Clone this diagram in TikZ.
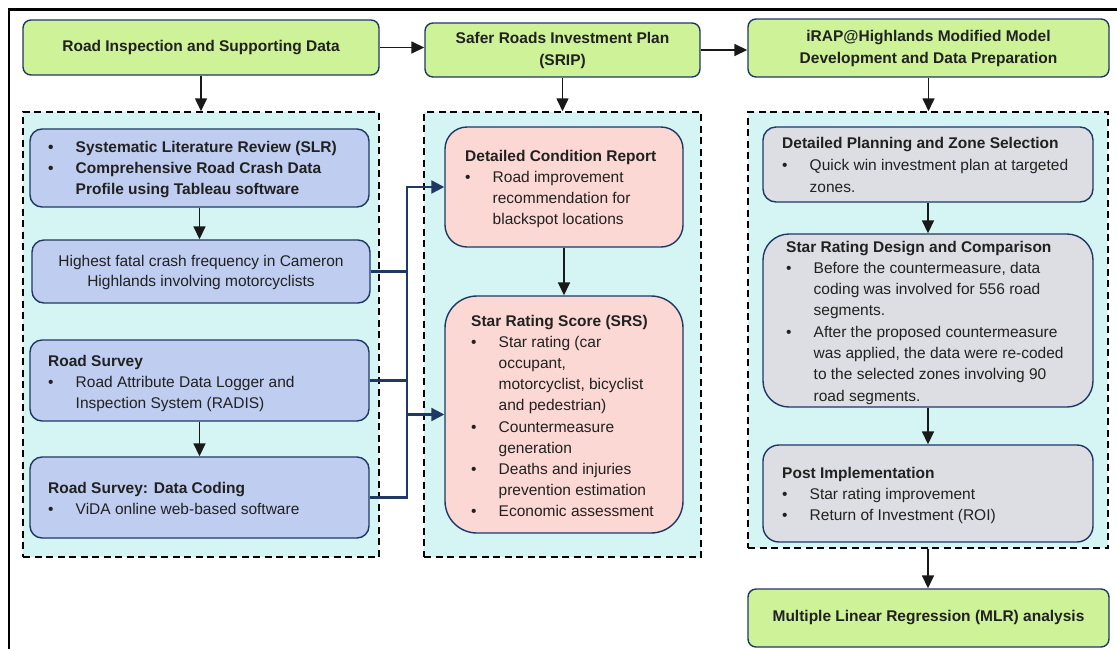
\documentclass[tikz,border=0pt]{standalone}
\usepackage{fontspec}
\setmainfont{Liberation Sans}
\usetikzlibrary{arrows.meta}
\definecolor{hdrgreen}{RGB}{205,242,152}
\definecolor{contfill}{RGB}{213,245,245}
\definecolor{bluefill}{RGB}{191,205,240}
\definecolor{pinkfill}{RGB}{251,216,211}
\definecolor{grayfill}{RGB}{221,222,227}
\definecolor{navy}{RGB}{31,56,100}
\definecolor{textc}{RGB}{33,33,33}
\newcommand\tb[1]{\begin{tabular}[t]{@{}l@{}}#1\end{tabular}}
\newcommand\bitem{\makebox[27.5pt][l]{•}}
\newcommand\bcont{\hspace*{27.5pt}}
\tikzset{
  x=1pt, y=-1pt,
  boxbase/.style={draw=navy, line width=1.4pt, inner sep=0pt},
  hdr/.style={boxbase, fill=hdrgreen, rounded corners=8pt, align=center, text=textc,
     font=\fontsize{15.5}{22}\selectfont\bfseries},
  cont/.style={draw=black, line width=1.5pt, dash pattern=on 7pt off 4.5pt, fill=contfill, inner sep=0pt},
  bbox/.style={boxbase, fill=bluefill, rounded corners=12pt},
  pbox/.style={boxbase, fill=pinkfill},
  gbox/.style={boxbase, fill=grayfill},
  txt/.style={inner sep=0pt, text=textc, anchor=base west, font=\fontsize{15.5}{21}\selectfont},
  arr/.style={draw=black!90, line width=1.6pt, -{Triangle[length=13pt,width=12pt]}},
  conn/.style={draw=navy, line width=2.2pt},
  conna/.style={conn, -{Triangle[length=13pt,width=13pt]}},
}
\begin{document}
\begin{tikzpicture}
\useasboundingbox (0,0) rectangle (1117,649);
% outer frame
\draw[line width=2.2pt] (9,649) -- (9,9.5) -- (1117,9.5);
% containers
\node[cont, minimum width=356pt, minimum height=445pt] (C1) at (201,334.5) {};
\node[cont, minimum width=277pt, minimum height=445pt] (C2) at (562.5,334.5) {};
\node[cont, minimum width=360pt, minimum height=436pt] (C3) at (928,330) {};
% headers
\node[hdr, minimum width=356pt, minimum height=55pt] (H1) at (201,47.5) {Road Inspection and Supporting Data};
\node[hdr, minimum width=275pt, minimum height=54pt] (H2) at (562.5,50) {Safer Roads Investment Plan\\(SRIP)};
\node[hdr, minimum width=361pt, minimum height=58pt] (H3) at (928.5,48) {iRAP@Highlands Modified Model\\Development and Data Preparation};
\node[hdr, minimum width=361pt, minimum height=58pt] (MLR) at (928.5,618) {Multiple Linear Regression (MLR) analysis};
% left column
\node[bbox, minimum width=339pt, minimum height=78pt] (B1) at (199.5,168) {};
\node[bbox, minimum width=338pt, minimum height=63pt] (B2) at (201,271.5) {};
\node[bbox, minimum width=339pt, minimum height=81pt] (B3) at (199.5,380.5) {};
\node[bbox, minimum width=339pt, minimum height=81pt] (B4) at (199.5,497.5) {};
% middle column
\node[pbox, rounded corners=22pt, minimum width=238pt, minimum height=120pt] (P1) at (564,187) {};
\node[pbox, rounded corners=32pt, minimum width=238pt, minimum height=237pt] (P2) at (564,414.5) {};
% right column
\node[gbox, rounded corners=13pt, minimum width=330pt, minimum height=75pt] (G1) at (928,164.5) {};
\node[gbox, rounded corners=26pt, minimum width=330pt, minimum height=173pt] (G2) at (928,320.5) {};
\node[gbox, rounded corners=16pt, minimum width=330pt, minimum height=97pt] (G3) at (928,493.5) {};
% texts
\node[txt, font=\fontsize{15.5}{21}\selectfont\bfseries] (tB1) at (48,152)
  {\tb{\bitem Systematic Literature Review (SLR)\\ \bitem Comprehensive Road Crash Data\\ \bcont Profile using Tableau software}};
\node[txt, anchor=center, align=center, font=\fontsize{15.5}{20}\selectfont] (tB2) at ([yshift=-1pt]B2.center)
  {Highest fatal crash frequency in Cameron\\Highlands involving motorcyclists};
\node[txt] (tB3) at (48,366)
  {\tb{\textbf{Road Survey}\\ \bitem Road Attribute Data Logger and\\ \bcont Inspection System (RADIS)}};
\node[txt] (tB4) at (48,493)
  {\tb{\textbf{Road Survey: Data Coding}\\ \bitem ViDA online web-based software}};
\node[txt] (tP1) at (465,161)
  {\tb{\textbf{Detailed Condition Report}\\ \bitem Road improvement\\ \bcont recommendation for\\ \bcont blackspot locations}};
\node[txt, font=\fontsize{15.5}{21.2}\selectfont] (tP2) at (471,326)
  {\tb{\textbf{Star Rating Score (SRS)}\\ \bitem Star rating (car\\ \bcont occupant,\\ \bcont motorcyclist, bicyclist\\ \bcont and pedestrian)\\ \bitem Countermeasure\\ \bcont generation\\ \bitem Deaths and injuries\\ \bcont prevention estimation\\ \bitem Economic assessment}};
\node[txt, font=\fontsize{15.5}{22}\selectfont] (tG1) at (782,148)
  {\tb{\textbf{Detailed Planning and Zone Selection}\\ \bitem Quick win investment plan at targeted\\ \bcont zones.}};
\node[txt, font=\fontsize{15.5}{21.3}\selectfont] (tG2) at (786,252)
  {\tb{\textbf{Star Rating Design and Comparison}\\ \bitem Before the countermeasure, data\\ \bcont coding was involved for 556 road\\ \bcont segments.\\ \bitem After the proposed countermeasure\\ \bcont was applied, the data were re-coded\\ \bcont to the selected zones involving 90\\ \bcont road segments.}};
\node[txt] (tG3) at (782,478)
  {\tb{\textbf{Post Implementation}\\ \bitem Star rating improvement\\ \bitem Return of Investment (ROI)}};
% black arrows
\draw[arr] (H1.east) -- (H1.east -| H2.west);
\draw[arr] (H2.east) -- (H2.east -| H3.west);
\draw[arr] (H1.south) -- (H1.south |- C1.north);
\draw[arr] (H2.south) -- (H2.south |- C2.north);
\draw[arr] (H3.south) -- (H3.south |- C3.north);
\draw[arr] (B1.south) -- (B1.south |- B2.north);
\draw[arr] (B3.south) -- (B3.south |- B4.north);
\draw[arr] (P1.south) -- (P1.south |- P2.north);
\draw[arr] (G1.south) -- (G1.south |- G2.north);
\draw[arr] (G2.south) -- (G2.south |- G3.north);
\draw[arr] (C3.south) -- (C3.south |- MLR.north);
% navy connectors
\coordinate (jx) at (407,0);
\draw[conna] (B2.east) -| (jx |- P1.west) -- (P1.west);
\draw[conn] (B3.east) -- (jx |- B3.east);
\draw[conn] (B4.east) -| (jx |- B2.east);
\draw[conna] (jx |- P2.west) -- (P2.west);
\end{tikzpicture}
\end{document}
